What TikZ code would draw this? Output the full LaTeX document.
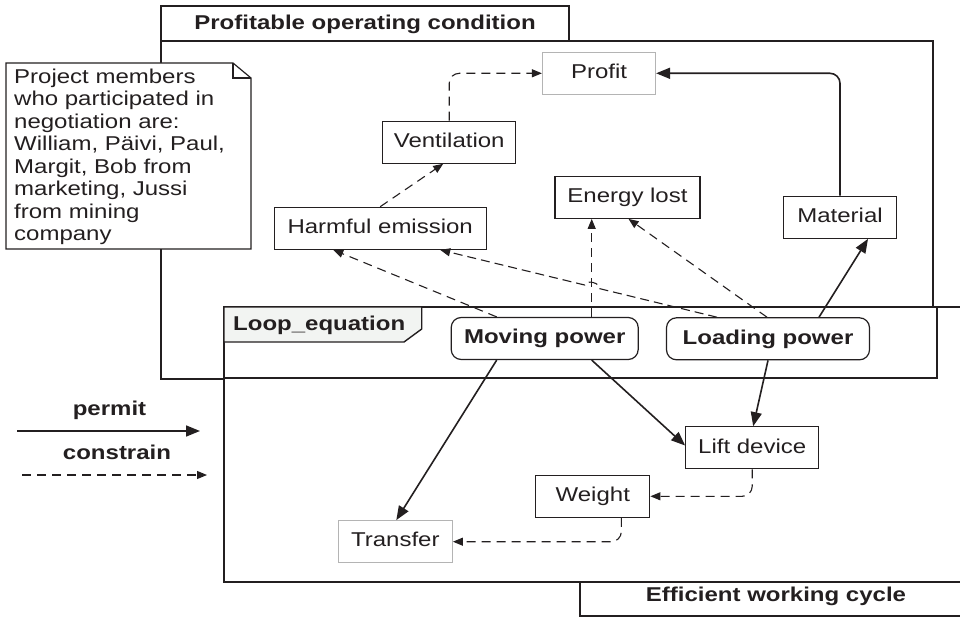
\documentclass[tikz,border=0pt]{standalone}
\usepackage{fontspec}
\setmainfont[FakeStretch=1.2]{Liberation Sans}
\usetikzlibrary{arrows.meta,calc}
\definecolor{ink}{HTML}{231F20}
\definecolor{softgrey}{HTML}{B4B4B4}
\definecolor{tabfill}{HTML}{F2F4F2}

\begin{document}
\begin{tikzpicture}[x=1pt,y=-1pt,
  font=\fontsize{20}{22.5}\selectfont, text=ink,
  frame/.style={draw=ink, line width=1.4pt},
  box/.style={draw=ink, line width=1.2pt, fill=white, minimum height=42pt,
    inner sep=0pt, text height=14.6pt, text depth=4.2pt},
  ghost/.style={box, draw=softgrey},
  power/.style={box, rounded corners=10pt, font=\fontsize{20}{22.5}\selectfont\bfseries},
  title/.style={font=\fontsize{20}{22.5}\selectfont\bfseries, inner sep=0pt},
  permit/.style={draw=ink, line width=1.6pt, -{Triangle[length=14pt,width=11pt]}},
  constrain/.style={draw=ink, line width=1.1pt, dash pattern=on 9pt off 6pt,
    -{Triangle[length=10pt,width=8pt]}}
]
\clip (0,0) rectangle (960,617);

% frame: profitable operating condition
\draw[frame] (161,6) rectangle (569,41);
\draw[frame] (161,41) rectangle (933,379);
\node[title, anchor=base] (ptitle) at (365,29.3) {Profitable operating condition};

% frame: efficient working cycle
\draw[frame, fill=white] (224,307) rectangle (975,582);
\draw[frame] (580,582) rectangle (975,616);
\node[title, anchor=base] (etitle) at (776,601.7) {Efficient working cycle};

% fragment: loop equation
\draw[frame] (224,307) rectangle (937,378);
\draw[frame, fill=tabfill] (224,307) -- (421.7,307) -- (421.7,329) -- (404,342) -- (224,342) -- cycle;
\node[title, anchor=base west] (ltitle) at (233,330.7) {Loop\_equation};

% note
\draw[frame, line width=1.2pt, fill=white] (6,63) -- (233,63) -- (251,78) -- (251,249) -- (6,249) -- cycle;
\draw[frame, line width=1.2pt] (233,63) -- (233,78) -- (251,78);
\node[anchor=north west, align=left, inner sep=0pt] (note) at (14,68.7)
  {Project members\\who participated in\\negotiation are:\\William, Päivi, Paul,\\Margit, Bob from\\marketing, Jussi\\from mining\\company};

% elements
\node[ghost, minimum width=113pt] (profit) at (599,73.3) {Profit};
\node[box, minimum width=133pt] (vent) at (449.2,142.2) {Ventilation};
\node[box, minimum width=212pt] (harm) at (380.2,228.3) {Harmful emission};
\node[box, minimum width=145pt] (energy) at (627.5,197.3) {Energy lost};
\node[box, minimum width=113pt] (mat) at (840,217.3) {Material};
\node[power, minimum width=187pt] (move) at (544.7,338.5) {Moving power};
\node[power, minimum width=203pt] (load) at (768,338.8) {Loading power};
\node[box, minimum width=133pt] (lift) at (752.2,447.8) {Lift device};
\node[box, minimum width=114pt] (weight) at (592.8,496.3) {Weight};
\node[ghost, minimum width=114pt] (transfer) at (395.3,541.7) {Transfer};

% permit links
\draw[permit, rounded corners=10pt] (mat.north) |- (profit.east);
\draw[permit] ([xshift=51pt]load.north) -- ([xshift=28pt]mat.south);
\draw[permit] ([xshift=-48pt]move.south) -- ([xshift=1pt]transfer.north);
\draw[permit] ([xshift=47pt]move.south) -- ([yshift=2.3pt]lift.west);
\draw[permit] (load.south) -- ([xshift=1pt]lift.north);

% constrain links
\draw[constrain, rounded corners=10pt] (vent.north) |- (profit.west);
\draw[constrain] (harm.north) -- ([xshift=-6pt]vent.south);
\draw[constrain] ([xshift=-48pt]move.north) -- ([xshift=-47pt]harm.south);
\draw[constrain] ([xshift=47pt]move.north) -- ([xshift=47pt]move.north |- energy.south);
\draw[constrain] ([xshift=-1pt]load.north) -- ([xshift=1pt]energy.south);
% this link hops over the vertical one where they cross
\coordinate (hopA) at ([xshift=-51pt]load.north);
\coordinate (hopB) at ([xshift=60pt]harm.south);
\draw[constrain, dash pattern=on 9pt off 5pt] (hopA) -- ($(hopA)!0.425!(hopB)$) to[bend right=90] ($(hopA)!0.478!(hopB)$) -- (hopB);
\draw[constrain, rounded corners=10pt] (lift.south) |- (weight.east);
\draw[constrain, rounded corners=10pt] ([xshift=28.5pt]weight.south) |- (transfer.east);

% legend
\node[title, anchor=base] (lpermit) at (109.5,415) {permit};
\coordinate (p0) at (17,431);
\coordinate (p1) at (200,431);
\draw[permit] (p0) -- (p1);
\node[title, anchor=base] (lconstrain) at (117,459) {constrain};
\coordinate (c0) at (22,475);
\coordinate (c1) at (207,475);
\draw[constrain] (c0) -- (c1);
\end{tikzpicture}
\end{document}
